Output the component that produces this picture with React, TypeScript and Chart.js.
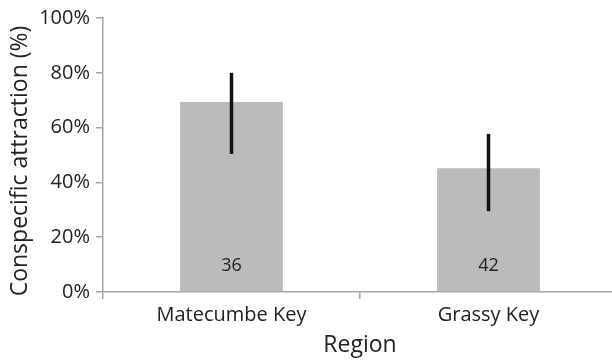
import React, { useEffect, useRef } from "react";
import { Chart, registerables } from "chart.js";

Chart.register(...registerables);

const categories = ["Matecumbe Key", "Grassy Key"];
const values = [69.3, 45.2];
const errLow = [50.4, 29.5];
const errHigh = [80, 57.7];
const sampleSizes = ["36", "42"];
const yTicks = [0, 20, 40, 60, 80, 100];
const yTitle = "Conspecific attraction (%)";
const xTitle = "Region";

const FONT = "'Open Sans', 'DejaVu Sans', sans-serif";
const TEXT = "#222222";
const AXIS = "#a6a6a6";

const overlayPlugin = {
  id: "overlay",
  afterDatasetsDraw(chart: any) {
    const ctx = chart.ctx;
    const meta = chart.getDatasetMeta(0);
    const y = chart.scales.y;
    ctx.save();
    meta.data.forEach((bar: any, i: number) => {
      ctx.strokeStyle = "#111111";
      ctx.lineWidth = 3.5;
      ctx.beginPath();
      ctx.moveTo(bar.x, y.getPixelForValue(errHigh[i]));
      ctx.lineTo(bar.x, y.getPixelForValue(errLow[i]));
      ctx.stroke();
      ctx.fillStyle = TEXT;
      ctx.font = `18px ${FONT}`;
      ctx.textAlign = "center";
      ctx.textBaseline = "middle";
      ctx.fillText(sampleSizes[i], bar.x, y.getPixelForValue(0) - 26);
    });
    // y-axis title
    ctx.translate(20, (chart.chartArea.top + chart.chartArea.bottom) / 2 + 6);
    ctx.rotate(-Math.PI / 2);
    ctx.font = `23px ${FONT}`;
    ctx.fillStyle = TEXT;
    ctx.textAlign = "center";
    ctx.textBaseline = "middle";
    ctx.fillText(yTitle, 0, 0);
    ctx.restore();
  },
};

export default function App() {
  const ref = useRef<HTMLCanvasElement | null>(null);
  useEffect(() => {
    if (!ref.current) return;
    const chart = new Chart(ref.current, {
      type: "bar",
      data: {
        labels: categories,
        datasets: [
          {
            data: values,
            backgroundColor: "#bbbbbb",
            borderWidth: 0,
            categoryPercentage: 1,
            barPercentage: 0.4,
          },
        ],
      },
      options: {
        animation: false,
        responsive: false,
        maintainAspectRatio: false,
        events: [],
        layout: { padding: { top: 17, right: 3, bottom: 0, left: 0 } },
        plugins: { legend: { display: false }, tooltip: { enabled: false } },
        scales: {
          x: {
            type: "category",
            offset: true,
            grid: {
              offset: true,
              drawOnChartArea: false,
              drawTicks: true,
              tickLength: 7,
              color: AXIS,
              lineWidth: 1.5,
            },
            border: { color: AXIS, width: 1.5 },
            ticks: {
              color: TEXT,
              font: { family: FONT, size: 20 },
              padding: 4,
              maxRotation: 0,
            },
            title: {
              display: true,
              text: xTitle,
              color: TEXT,
              font: { family: FONT, size: 23 },
              padding: { top: 0, bottom: 1 },
            },
            afterFit(scale: any) {
              scale.height = 68;
            },
          },
          y: {
            min: 0,
            max: 100,
            afterBuildTicks(scale: any) {
              scale.ticks = yTicks.map((v) => ({ value: v }));
            },
            grid: {
              drawOnChartArea: false,
              drawTicks: true,
              tickLength: 7,
              color: AXIS,
              lineWidth: 1.5,
            },
            border: { color: AXIS, width: 1.5 },
            ticks: {
              color: TEXT,
              font: { family: FONT, size: 20 },
              padding: 6,
              callback: (v: any) => `${v}%`,
            },
            afterFit(scale: any) {
              scale.width = 103;
            },
          },
        },
      },
      plugins: [overlayPlugin],
    });
    return () => chart.destroy();
  }, []);
  return (
    <div
      style={{
        position: "fixed",
        left: 0,
        top: 0,
        width: 612,
        height: 360,
        overflow: "hidden",
        background: "#ffffff",
      }}
    >
      <canvas ref={ref} width={620} height={360} style={{ display: "block" }} />
    </div>
  );
}
